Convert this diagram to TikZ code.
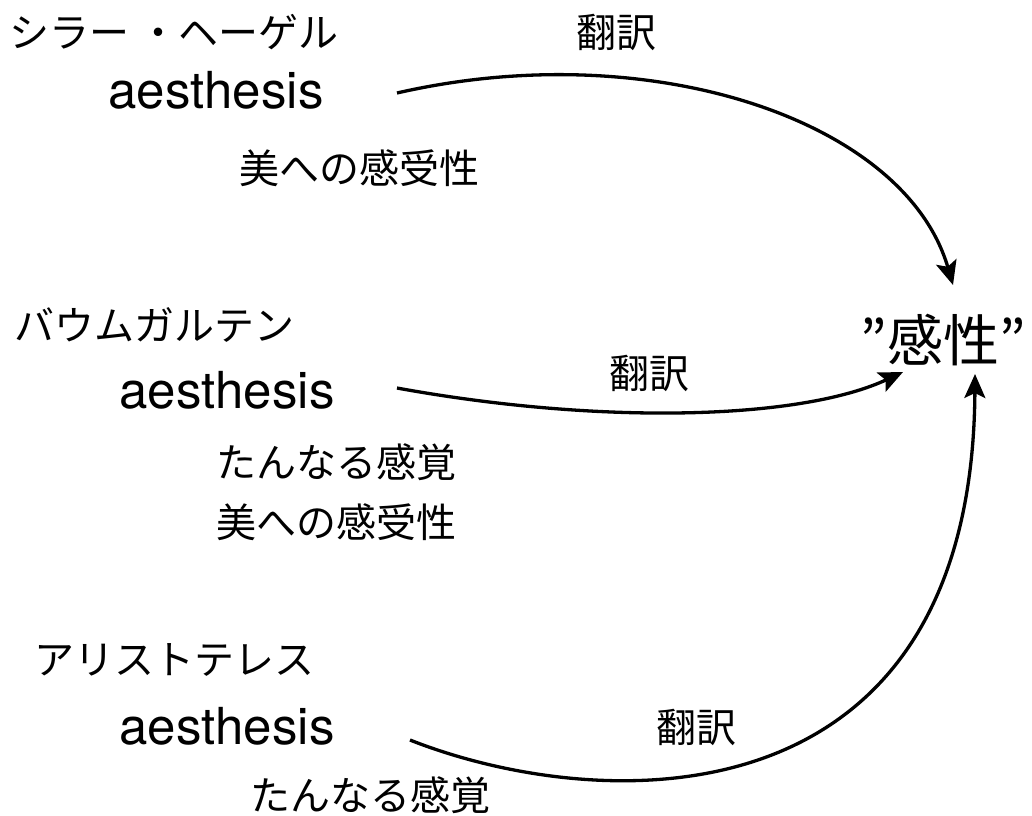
\documentclass[tikz,border=0pt]{standalone}
\usepackage{fontspec}
\setmainfont{Noto Sans CJK JP}
\newfontfamily\latinf{TeX Gyre Heros}
\usetikzlibrary{arrows.meta}
\begin{document}
\begin{tikzpicture}[x=1pt,y=-1pt,
  jp/.style={inner sep=0pt,font=\fontsize{40}{42}\selectfont},
  lat/.style={inner sep=0pt,font=\latinf\fontsize{51}{54}\selectfont},
  big/.style={inner sep=0pt,font=\fontsize{56}{60}\selectfont},
  conn/.style={line width=3.3pt,-{Stealth[length=24pt,width=21pt,inset=5pt]}}]
\useasboundingbox (0,0) rectangle (1032,815);
% group 1
\node[jp] (n1) at (174,32) {シラー ・ヘーゲル};
\node[lat] (a1) at (216,90) {aesthesis};
\node[jp] (b1) at (359,168) {美への感受性};
\node[jp] (t1) at (616,32) {翻訳};
% group 2
\node[jp] (n2) at (154,325) {バウムガルテン};
\node[lat] (a2) at (227,390) {aesthesis};
\node[jp] (c2) at (336,462) {たんなる感覚};
\node[jp] (b2) at (336,522) {美への感受性};
\node[jp] (t2) at (649,373) {翻訳};
% group 3
\node[jp] (n3) at (174,660) {アリストテレス};
\node[lat] (a3) at (227,726) {aesthesis};
\node[jp] (c3) at (370,795) {たんなる感覚};
\node[jp] (t3) at (696,727) {翻訳};
% target
\node[big] (k) at (943,340) {”感性”};
\coordinate (s1) at (397,93);
\coordinate (e1) at (953,285);
\coordinate (s2) at (397,388);
\coordinate (e2) at (903,372);
\coordinate (s3) at (410,740);
\coordinate (e3) at (975,374);
\draw[conn] (s1) .. controls (650,35) and (905,120) .. (e1);
\draw[conn] (s2) .. controls (600,425) and (800,420) .. (e2);
\draw[conn] (s3) .. controls (600,815) and (972,830) .. (e3);
\end{tikzpicture}
\end{document}
